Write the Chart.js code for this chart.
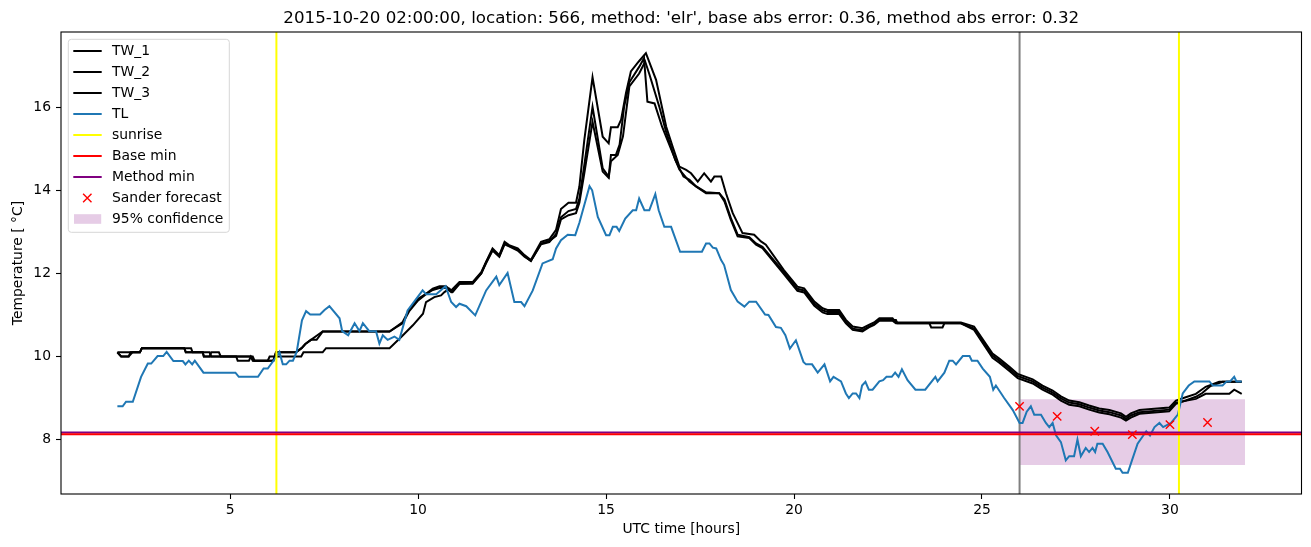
<!DOCTYPE html>
<html>
<head>
<meta charset="utf-8">
<script src="https://cdn.jsdelivr.net/npm/chart.js@4.4.0/dist/chart.umd.min.js"></script>
<style>
  html, body { margin: 0; padding: 0; background: #fff; }
  canvas { display: block; }
</style>
</head>
<body>
<canvas id="grafico" width="1311" height="547"></canvas>
<script>
// ---- datos ----
var tituloTexto = "2015-10-20 02:00:00, location: 566, method: 'elr', base abs error: 0.36, method abs error: 0.32";

// TL (azul)
var tlHoras = [
    2.00, 2.14, 2.23, 2.41, 2.63, 2.81, 2.90, 3.07, 3.22, 3.31,
    3.49, 3.74, 3.81, 3.90, 3.99, 4.06, 4.29, 5.14, 5.23, 5.74,
    5.89, 6.00, 6.22, 6.31, 6.40, 6.49, 6.58, 6.67, 6.77, 6.91,
    7.02, 7.13, 7.39, 7.51, 7.64, 7.91, 7.98, 8.14, 8.31, 8.44,
    8.53, 8.70, 8.88, 8.97, 9.06, 9.19, 9.37, 9.50, 9.72, 10.12,
    10.21, 10.48, 10.73, 10.88, 11.01, 11.10, 11.28, 11.52, 11.81, 12.08,
    12.16, 12.38, 12.56, 12.74, 12.83, 13.05, 13.31, 13.58, 13.67, 13.80,
    13.98, 14.18, 14.29, 14.56, 14.63, 14.78, 15.00, 15.09, 15.18, 15.28,
    15.35, 15.51, 15.71, 15.80, 15.88, 16.02, 16.15, 16.31, 16.40, 16.55,
    16.73, 16.97, 17.55, 17.66, 17.75, 17.84, 17.93, 18.06, 18.14, 18.32,
    18.50, 18.68, 18.81, 18.99, 19.23, 19.32, 19.52, 19.65, 19.77, 19.89,
    20.05, 20.25, 20.32, 20.48, 20.63, 20.81, 20.96, 21.05, 21.25, 21.38,
    21.46, 21.56, 21.65, 21.74, 21.81, 21.90, 21.99, 22.09, 22.27, 22.37,
    22.46, 22.60, 22.69, 22.78, 22.87, 23.02, 23.23, 23.49, 23.76, 23.82,
    24.00, 24.13, 24.22, 24.31, 24.49, 24.67, 24.73, 24.88, 25.02, 25.21,
    25.30, 25.37, 25.59, 25.82, 26.00, 26.08, 26.19, 26.30, 26.39, 26.57,
    26.70, 26.79, 26.88, 26.97, 27.10, 27.23, 27.32, 27.45, 27.54, 27.63,
    27.76, 27.85, 27.94, 28.01, 28.07, 28.21, 28.34, 28.56, 28.67, 28.74,
    28.88, 28.99, 29.14, 29.37, 29.47, 29.59, 29.72, 29.82, 30.03, 30.21,
    30.34, 30.50, 30.65, 31.05, 31.14, 31.40, 31.51, 31.60, 31.71, 31.77, 31.91
];
var tlTemp = [
    8.80, 8.80, 8.91, 8.91, 9.51, 9.83, 9.83, 10.01, 10.01, 10.11,
    9.89, 9.89, 9.81, 9.90, 9.81, 9.90, 9.61, 9.61, 9.51, 9.51,
    9.71, 9.71, 9.98, 10.11, 9.81, 9.81, 9.90, 9.90, 10.11, 10.87,
    11.09, 11.01, 11.01, 11.12, 11.21, 10.92, 10.61, 10.51, 10.80, 10.61,
    10.80, 10.61, 10.61, 10.31, 10.51, 10.40, 10.48, 10.40, 11.11, 11.59,
    11.50, 11.50, 11.69, 11.31, 11.19, 11.27, 11.21, 10.99, 11.59, 11.92,
    11.72, 12.01, 11.31, 11.31, 11.21, 11.59, 12.24, 12.34, 12.60, 12.80,
    12.93, 12.92, 13.22, 14.10, 14.00, 13.36, 12.92, 12.92, 13.12, 13.12,
    13.02, 13.32, 13.52, 13.52, 13.80, 13.52, 13.52, 13.91, 13.52, 13.12,
    13.12, 12.52, 12.52, 12.72, 12.72, 12.62, 12.60, 12.32, 12.20, 11.60,
    11.32, 11.20, 11.32, 11.32, 11.01, 11.00, 10.71, 10.69, 10.51, 10.19,
    10.39, 9.87, 9.81, 9.81, 9.61, 9.81, 9.40, 9.51, 9.40, 9.11,
    9.00, 9.11, 9.11, 9.00, 9.30, 9.39, 9.20, 9.20, 9.40, 9.43,
    9.51, 9.51, 9.61, 9.51, 9.69, 9.43, 9.20, 9.20, 9.51, 9.40,
    9.61, 9.90, 9.90, 9.81, 10.01, 10.01, 9.90, 9.90, 9.71, 9.51,
    9.20, 9.30, 9.00, 8.71, 8.40, 8.40, 8.67, 8.80, 8.60, 8.60,
    8.40, 8.30, 8.40, 8.10, 7.94, 7.50, 7.60, 7.60, 8.00, 7.60,
    7.80, 7.70, 7.80, 7.70, 7.90, 7.90, 7.70, 7.30, 7.30, 7.20,
    7.20, 7.50, 7.90, 8.20, 8.10, 8.30, 8.40, 8.30, 8.40, 8.60,
    9.11, 9.30, 9.40, 9.40, 9.30, 9.30, 9.40, 9.40, 9.51, 9.40, 9.40
];

// TW_1
var tw1Horas = [
    2.00, 2.60, 2.65, 3.96, 4.00, 4.27, 4.30, 5.16, 5.20, 5.50,
    5.55, 5.62, 6.15, 6.22, 6.75, 6.90, 7.00, 7.15, 7.30, 7.46,
    9.24, 9.41, 9.59, 9.77, 10.00, 10.21, 10.39, 10.57, 10.74, 10.88,
    11.10, 11.45, 11.68, 11.81, 11.98, 12.16, 12.30, 12.42, 12.65, 12.83,
    13.00, 13.27, 13.49, 13.67, 13.80, 14.00, 14.20, 14.29, 14.42, 14.64,
    14.91, 15.07, 15.13, 15.31, 15.40, 15.53, 15.66, 15.87, 16.06, 16.33,
    16.60, 16.77, 16.95, 17.13, 17.26, 17.44, 17.61, 17.79, 17.88, 18.06,
    18.19, 18.37, 18.63, 18.94, 19.12, 19.25, 19.73, 20.09, 20.27, 20.54,
    20.76, 20.89, 21.20, 21.38, 21.56, 21.82, 21.99, 22.13, 22.27, 22.62,
    22.71, 23.78, 24.44, 24.79, 25.28, 25.46, 25.73, 25.95, 26.35, 26.61,
    26.88, 27.10, 27.32, 27.59, 27.85, 28.12, 28.39, 28.70, 28.83, 28.96,
    29.19, 29.98, 30.16, 30.42, 30.69, 30.95, 31.31, 31.91
];
var tw1Temp = [
    10.10, 10.10, 10.20, 10.20, 10.10, 10.10, 10.00, 10.00, 9.90, 9.90,
    10.00, 9.90, 9.90, 10.10, 10.10, 10.20, 10.30, 10.40, 10.40, 10.60,
    10.60, 10.71, 10.83, 11.15, 11.39, 11.51, 11.63, 11.69, 11.69, 11.59,
    11.79, 11.79, 12.03, 12.28, 12.60, 12.44, 12.76, 12.68, 12.60, 12.44,
    12.32, 12.76, 12.82, 13.05, 13.55, 13.70, 13.70, 14.09, 15.20, 16.72,
    15.29, 15.13, 15.52, 15.52, 15.70, 16.34, 16.86, 17.10, 17.30, 16.66,
    15.53, 15.05, 14.57, 14.49, 14.41, 14.21, 14.41, 14.21, 14.33, 14.33,
    13.93, 13.45, 12.97, 12.93, 12.77, 12.69, 12.08, 11.68, 11.64, 11.32,
    11.16, 11.12, 11.12, 10.88, 10.72, 10.68, 10.76, 10.82, 10.92, 10.92,
    10.82, 10.82, 10.82, 10.72, 10.07, 9.95, 9.75, 9.58, 9.45, 9.30,
    9.18, 9.04, 8.94, 8.90, 8.82, 8.75, 8.71, 8.63, 8.55, 8.63,
    8.71, 8.77, 8.94, 9.02, 9.10, 9.27, 9.39, 9.39
];

// TW_2
var tw2Horas = [
    2.00, 2.10, 2.30, 2.35, 2.60, 2.65, 3.78, 3.82, 4.27, 4.30,
    4.45, 4.50, 4.70, 4.75, 5.60, 5.65, 6.15, 6.22, 6.75, 6.90,
    7.00, 7.15, 7.30, 7.46, 9.24, 9.41, 9.59, 9.77, 10.00, 10.21,
    10.39, 10.57, 10.74, 10.88, 11.10, 11.45, 11.68, 11.81, 11.98, 12.16,
    12.30, 12.42, 12.65, 12.83, 13.00, 13.27, 13.49, 13.67, 13.80, 14.00,
    14.20, 14.29, 14.42, 14.64, 14.91, 15.07, 15.13, 15.26, 15.36, 15.48,
    15.62, 15.88, 16.01, 16.10, 16.29, 16.49, 16.77, 16.95, 17.22, 17.39,
    17.66, 18.01, 18.15, 18.32, 18.50, 18.81, 18.99, 19.16, 19.73, 20.09,
    20.27, 20.54, 20.76, 20.89, 21.20, 21.38, 21.56, 21.82, 21.99, 22.13,
    22.27, 22.62, 22.71, 23.60, 23.65, 23.95, 24.00, 24.44, 24.79, 25.28,
    25.46, 25.73, 25.95, 26.35, 26.61, 26.88, 27.10, 27.32, 27.59, 27.85,
    28.12, 28.39, 28.70, 28.83, 28.96, 29.19, 29.98, 30.16, 30.42, 30.69,
    30.86, 31.08, 31.40, 31.91
];
var tw2Temp = [
    10.10, 10.00, 10.00, 10.10, 10.10, 10.20, 10.20, 10.10, 10.10, 10.00,
    10.00, 10.10, 10.10, 10.00, 10.00, 9.90, 9.90, 10.10, 10.10, 10.20,
    10.30, 10.40, 10.50, 10.60, 10.60, 10.70, 10.80, 11.10, 11.35, 11.50,
    11.60, 11.65, 11.65, 11.55, 11.75, 11.75, 12.00, 12.25, 12.55, 12.40,
    12.70, 12.65, 12.55, 12.40, 12.30, 12.70, 12.75, 12.95, 13.35, 13.50,
    13.55, 13.80, 14.60, 16.01, 14.53, 14.33, 14.85, 14.85, 15.10, 16.01,
    16.60, 16.97, 17.18, 16.13, 16.09, 15.53, 14.90, 14.50, 14.21, 14.09,
    13.93, 13.93, 13.73, 13.29, 12.89, 12.85, 12.69, 12.61, 11.98, 11.58,
    11.54, 11.22, 11.06, 11.02, 11.02, 10.80, 10.64, 10.60, 10.70, 10.76,
    10.86, 10.86, 10.80, 10.80, 10.70, 10.70, 10.80, 10.80, 10.64, 9.97,
    9.85, 9.65, 9.48, 9.35, 9.20, 9.08, 8.94, 8.84, 8.80, 8.72,
    8.65, 8.61, 8.53, 8.46, 8.53, 8.62, 8.68, 8.86, 8.94, 9.03,
    9.12, 9.29, 9.39, 9.39
];

// TW_3
var tw3Horas = [
    2.00, 2.10, 2.30, 2.40, 2.60, 2.65, 3.78, 3.82, 4.45, 4.50,
    5.55, 5.60, 6.00, 6.05, 6.89, 6.95, 7.46, 7.55, 9.24, 9.55,
    9.86, 10.13, 10.21, 10.43, 10.61, 10.70, 10.83, 10.92, 11.10, 11.45,
    11.68, 11.81, 11.98, 12.16, 12.30, 12.42, 12.65, 12.83, 13.00, 13.27,
    13.49, 13.67, 13.80, 14.00, 14.20, 14.29, 14.42, 14.64, 14.91, 15.07,
    15.13, 15.31, 15.45, 15.62, 15.88, 16.04, 16.15, 16.42, 16.60, 16.84,
    17.06, 17.22, 17.39, 17.66, 18.01, 18.15, 18.32, 18.50, 18.81, 18.99,
    19.16, 19.73, 20.09, 20.27, 20.54, 20.76, 20.89, 21.20, 21.38, 21.56,
    21.82, 21.99, 22.13, 22.27, 22.71, 22.75, 24.44, 24.79, 25.28, 25.46,
    25.73, 25.95, 26.35, 26.61, 26.88, 27.10, 27.32, 27.59, 27.85, 28.12,
    28.39, 28.70, 28.83, 28.96, 29.19, 29.98, 30.16, 30.69, 30.95, 31.58,
    31.71, 31.91
];
var tw3Temp = [
    10.10, 10.00, 10.00, 10.10, 10.10, 10.20, 10.20, 10.10, 10.10, 10.00,
    10.00, 9.90, 9.90, 10.00, 10.00, 10.10, 10.10, 10.20, 10.20, 10.47,
    10.75, 11.03, 11.31, 11.43, 11.47, 11.55, 11.63, 11.55, 11.75, 11.77,
    12.00, 12.27, 12.57, 12.42, 12.72, 12.66, 12.57, 12.42, 12.30, 12.72,
    12.78, 12.90, 13.30, 13.40, 13.45, 13.70, 14.40, 15.65, 14.45, 14.30,
    14.70, 14.85, 15.30, 16.50, 16.81, 17.10, 16.80, 16.00, 15.40, 14.73,
    14.33, 14.25, 14.10, 13.95, 13.93, 13.78, 13.33, 12.93, 12.87, 12.72,
    12.64, 12.03, 11.63, 11.59, 11.27, 11.11, 11.07, 11.07, 10.83, 10.67,
    10.63, 10.72, 10.78, 10.88, 10.88, 10.80, 10.80, 10.67, 10.02, 9.90,
    9.70, 9.53, 9.40, 9.25, 9.13, 8.99, 8.89, 8.85, 8.77, 8.70,
    8.66, 8.58, 8.50, 8.58, 8.66, 8.72, 8.89, 8.98, 9.10, 9.10,
    9.20, 9.10
];

// lineas de referencia
var amanecerHoras = [6.23, 30.24];
var horaActual = 26.0;
var baseMin = 8.13;
var metodoMin = 8.17;

// pronostico Sander
var pronosticoHoras = [26, 27, 28, 29, 30, 31];
var pronosticoTemp = [8.80, 8.56, 8.20, 8.12, 8.36, 8.41];

// banda 95%
var confianzaHoras = [26, 32];
var confianzaBaja = 7.39;
var confianzaAlta = 8.97;

// ejes
var xRango = [0.5, 33.5];
var yRango = [6.69, 17.81];
var xTicks = [5, 10, 15, 20, 25, 30];
var yTicks = [8, 10, 12, 14, 16];


function puntos(horas, valores) {
    return horas.map(function (h, i) { return { x: h, y: valores[i] }; });
}
function vertical(h) {
    return [{ x: h, y: yRango[0] }, { x: h, y: yRango[1] }];
}
function horizontal(v) {
    return [{ x: xRango[0], y: v }, { x: xRango[1], y: v }];
}

var fuente = 'DejaVu Sans';
Chart.defaults.font.family = fuente;
Chart.defaults.font.size = 13.9;
Chart.defaults.color = '#000';

function linea(label, data, color, orden, enLeyenda) {
    return {
        label: label, data: data, showLine: true, borderColor: color, backgroundColor: color,
        borderWidth: 2, pointRadius: 0, pointHoverRadius: 0, tension: 0, fill: false,
        order: orden, enLeyenda: enLeyenda, tipoLeyenda: 'linea'
    };
}

var datasets = [
    linea('TW_1', puntos(tw1Horas, tw1Temp), '#000000', 9, true),
    linea('TW_2', puntos(tw2Horas, tw2Temp), '#000000', 8, true),
    linea('TW_3', puntos(tw3Horas, tw3Temp), '#000000', 7, true),
    linea('TL', puntos(tlHoras, tlTemp), '#1f77b4', 6, true),
    linea('sunrise', vertical(amanecerHoras[0]), '#ffff00', 5, true),
    linea('sunrise', vertical(amanecerHoras[1]), '#ffff00', 5, false),
    linea('Base min', horizontal(baseMin), '#ff0000', 3, true),
    linea('Method min', horizontal(metodoMin), '#800080', 4, true),
    {
        label: 'Sander forecast', data: puntos(pronosticoHoras, pronosticoTemp), showLine: false,
        pointStyle: 'crossRot', pointRadius: 5.9, pointHoverRadius: 5.9, pointBorderWidth: 1.4,
        borderColor: '#ff0000', backgroundColor: '#ff0000', order: 2,
        enLeyenda: true, tipoLeyenda: 'cruz'
    },
    {
        label: '95% confidence', data: puntos(confianzaHoras, [confianzaAlta, confianzaAlta]),
        showLine: true, borderWidth: 0, pointRadius: 0, borderColor: 'rgba(0,0,0,0)',
        backgroundColor: 'rgba(128,0,128,0.2)', fill: '+1', order: 20,
        enLeyenda: true, tipoLeyenda: 'parche'
    },
    {
        label: 'conf_baja', data: puntos(confianzaHoras, [confianzaBaja, confianzaBaja]),
        showLine: true, borderWidth: 0, pointRadius: 0, borderColor: 'rgba(0,0,0,0)',
        fill: false, order: 21, enLeyenda: false
    },
    linea('now', vertical(horaActual), '#808080', 10, false)
];

// marco del grafico y leyenda dibujada como la de matplotlib
var marcoYLeyenda = {
    id: 'marcoYLeyenda',
    afterDatasetsDraw: function (chart) {
        var ctx = chart.ctx;
        var a = chart.chartArea;
        ctx.save();
        ctx.strokeStyle = '#000';
        ctx.lineWidth = 1.1;
        ctx.strokeRect(a.left, a.top, a.right - a.left, a.bottom - a.top);

        var items = chart.data.datasets.filter(function (d) { return d.enLeyenda; });
        var x0 = a.left + 7.3, y0 = a.top + 7.3;
        var ancho = 161, alto = 193, r = 3;
        ctx.beginPath();
        ctx.moveTo(x0 + r, y0);
        ctx.arcTo(x0 + ancho, y0, x0 + ancho, y0 + alto, r);
        ctx.arcTo(x0 + ancho, y0 + alto, x0, y0 + alto, r);
        ctx.arcTo(x0, y0 + alto, x0, y0, r);
        ctx.arcTo(x0, y0, x0 + ancho, y0, r);
        ctx.closePath();
        ctx.fillStyle = 'rgba(255,255,255,0.8)';
        ctx.fill();
        ctx.strokeStyle = '#d6d6d6';
        ctx.lineWidth = 1;
        ctx.stroke();

        ctx.font = '13.9px "' + fuente + '"';
        ctx.textBaseline = 'middle';
        ctx.textAlign = 'left';
        items.forEach(function (d, i) {
            var y = y0 + 11.7 + i * 21.0;
            if (d.tipoLeyenda === 'linea') {
                ctx.strokeStyle = d.borderColor;
                ctx.lineWidth = 2;
                ctx.beginPath();
                ctx.moveTo(x0 + 5, y);
                ctx.lineTo(x0 + 33.4, y);
                ctx.stroke();
            } else if (d.tipoLeyenda === 'cruz') {
                ctx.strokeStyle = d.borderColor;
                ctx.lineWidth = 1.4;
                ctx.beginPath();
                ctx.moveTo(x0 + 19 - 4.2, y - 4.2);
                ctx.lineTo(x0 + 19 + 4.2, y + 4.2);
                ctx.moveTo(x0 + 19 - 4.2, y + 4.2);
                ctx.lineTo(x0 + 19 + 4.2, y - 4.2);
                ctx.stroke();
            } else {
                ctx.fillStyle = d.backgroundColor;
                ctx.fillRect(x0 + 5.7, y - 4.8, 27.2, 9.6);
            }
            ctx.fillStyle = '#000';
            ctx.fillText(d.label, x0 + 43.7, y);
        });
        ctx.restore();
    }
};

var ctx = document.getElementById('grafico').getContext('2d');
var myChart = new Chart(ctx, {
    type: 'scatter',
    data: { datasets: datasets },
    plugins: [marcoYLeyenda],
    options: {
        responsive: false,
        animation: false,
        events: [],
        layout: { padding: { left: 0, right: 9.5, top: 0, bottom: 0 } },
        plugins: {
            legend: { display: false },
            tooltip: { enabled: false },
            title: {
                display: true,
                text: tituloTexto,
                fullSize: false,
                font: { family: fuente, size: 16.7, weight: 'normal', lineHeight: 1.2 },
                color: '#000',
                padding: { top: 8.5, bottom: 3.46 }
            }
        },
        scales: {
            x: {
                type: 'linear',
                min: xRango[0],
                max: xRango[1],
                afterBuildTicks: function (scale) {
                    scale.ticks = xTicks.map(function (v) { return { value: v }; });
                },
                afterFit: function (scale) { scale.height = 53; },
                ticks: { autoSkip: false, maxRotation: 0, padding: 3.5, font: { size: 13.9 }, color: '#000' },
                grid: { display: true, drawOnChartArea: false, drawTicks: true, tickLength: 5, color: '#000', tickWidth: 1.1 },
                border: { display: false },
                title: { display: true, text: 'UTC time [hours]', padding: { top: 0, bottom: 9.5 }, font: { size: 13.9 }, color: '#000' }
            },
            y: {
                type: 'linear',
                min: yRango[0],
                max: yRango[1],
                afterBuildTicks: function (scale) {
                    scale.ticks = yTicks.map(function (v) { return { value: v }; });
                },
                afterFit: function (scale) { scale.width = 61; },
                ticks: { autoSkip: false, padding: 5, font: { size: 13.9 }, color: '#000' },
                grid: { display: true, drawOnChartArea: false, drawTicks: true, tickLength: 5, color: '#000', tickWidth: 1.1 },
                border: { display: false },
                title: { display: true, text: 'Temperature [ °C]', padding: { top: 10, bottom: 0 }, font: { size: 13.9 }, color: '#000' }
            }
        }
    }
});
</script>
</body>
</html>
